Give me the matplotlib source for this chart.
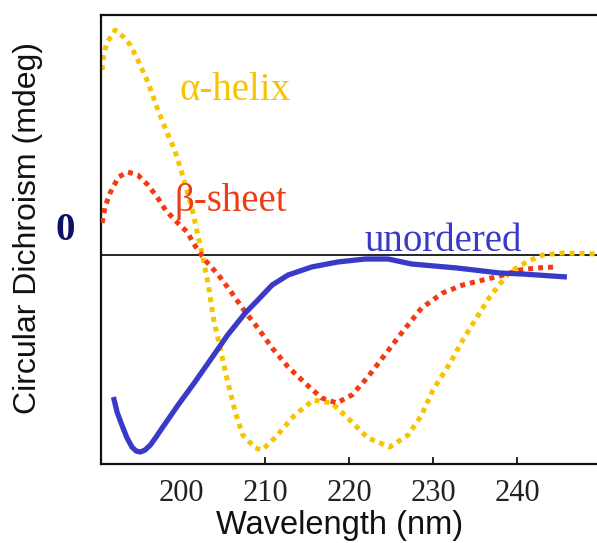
import matplotlib
matplotlib.use("Agg")
import matplotlib.pyplot as plt

# values (wavelength nm, CD in arbitrary units)
helix_wl = [190.55, 190.7, 191.1, 192.1, 193.1, 193.9, 194.8, 196.0, 197.2, 198.3, 199.2, 200.2, 201.3,
            202.0, 202.5, 203.2, 203.8, 204.6, 205.4, 206.4, 207.3, 208.8, 209.6, 211.1, 213.5, 215.7,
            217.9, 219.8, 222.2, 224.8, 227.0, 228.6, 229.95, 232.0, 233.5, 235.2, 236.7, 238.3, 239.1,
            241.1, 243.0, 245.4, 249.5]
helix_cd = [18.5, 19.8, 21.2, 22.5, 21.8, 21.0, 19.5, 17.3, 14.5, 12.2, 10.5, 7.8, 4.5,
            1.8, 0.0, -3.0, -6.3, -9.3, -12.3, -15.7, -18.0, -19.3, -19.5, -18.3, -16.0, -14.5,
            -14.8, -16.3, -18.3, -19.2, -18.0, -16.0, -13.5, -10.8, -8.5, -6.2, -4.2, -2.5, -1.7,
            -0.7, 0.0, 0.2, 0.1]

sheet_wl = [190.55, 190.9, 191.5, 192.5, 193.6, 194.8, 196.0, 197.1, 198.1, 199.2, 200.8, 201.3, 202.8,
            204.4, 206.0, 207.6, 209.1, 210.8, 212.7, 214.7, 216.7, 218.5, 220.3, 222.2, 224.2, 226.3,
            228.6, 231.1, 233.5, 235.9, 237.9, 240.3, 242.3, 244.5]
sheet_cd = [3.2, 4.8, 6.2, 7.8, 8.3, 8.0, 7.0, 5.8, 4.5, 3.5, 2.2, 1.3, -0.5,
            -2.0, -3.8, -5.7, -7.3, -9.3, -11.2, -12.8, -14.3, -14.8, -14.0, -12.2, -10.0, -7.7,
            -5.3, -3.8, -3.0, -2.5, -2.1, -1.5, -1.3, -1.2]

coil_wl = [191.9, 192.33, 192.9, 193.52, 194.1, 194.6, 195.1, 195.67, 196.3, 196.98, 197.7, 199.6, 201.6,
           203.6, 205.5, 207.6, 209.1, 210.8, 212.7, 215.5, 218.6, 221.9, 224.6, 227.4, 232.8, 237.9,
           240.6, 245.9]
coil_cd = [-14.2, -15.7, -17.0, -18.3, -19.2, -19.6, -19.7, -19.5, -19.0, -18.2, -17.3, -15.0, -12.7,
           -10.3, -8.0, -5.8, -4.5, -3.0, -2.0, -1.2, -0.7, -0.4, -0.4, -0.9, -1.3, -1.8,
           -1.9, -2.2]

ticks = [200, 210, 220, 230, 240]

gold = "#f7c400"
red = "#f03c14"
blue = "#3a3ac8"

fig = plt.figure(figsize=(5.97, 5.43), dpi=100)
ax = fig.add_axes([0.1692, 0.1455, 0.8308, 0.8269])

ax.axhline(0, color="black", lw=1.2, zorder=1)
ax.plot(helix_wl, helix_cd, color=gold, lw=3.6, linestyle=(0, (1, 1)), dash_capstyle="butt",
        solid_joinstyle="round", zorder=2)
ax.plot(sheet_wl, sheet_cd, color=red, lw=3.6, linestyle=(0, (1, 1)), dash_capstyle="butt",
        solid_joinstyle="round", zorder=3)
ax.plot(coil_wl, coil_cd, color=blue, lw=3.8, solid_capstyle="butt", solid_joinstyle="round", zorder=4)

ax.set_xlim(190.42, 249.48)
ax.set_ylim(-20.9, 24.0)
ax.spines["right"].set_visible(False)
for s in ["left", "top", "bottom"]:
    ax.spines[s].set_linewidth(1.6)
    ax.spines[s].set_color("#111111")

ax.set_yticks([])
ax.set_xticks(ticks)
ax.set_xticklabels([str(t) for t in ticks], family="Liberation Serif", fontsize=22, color="#222222")
ax.tick_params(axis="x", direction="in", length=5, width=1.2, pad=11)
ax.xaxis.get_major_ticks()[0].tick1line.set_visible(False)

fig.text(28 / 597, 0.581, "Circular Dichroism (mdeg)", rotation=90, ha="center", va="center",
         family="Liberation Sans", fontsize=23, color="#111111")
fig.text(340 / 597, 9 / 543, "Wavelength (nm)", ha="center", va="baseline",
         family="Liberation Sans", fontsize=23.5, color="#111111")
fig.text(65 / 597, 1 - 230 / 543, "0", ha="center", va="center", family="Liberation Serif",
         fontweight="bold", fontsize=28, color="#0d1266")

fig.text(180 / 597, 0.8158, "\u03b1-helix", ha="left", va="baseline", family="Liberation Serif",
         fontsize=28, color=gold)
fig.text(175 / 597, 0.6114, "\u03b2-sheet", ha="left", va="baseline", family="Liberation Serif",
         fontsize=28, color=red)
fig.text(365 / 597, 0.5378, "unordered", ha="left", va="baseline", family="Liberation Serif",
         fontsize=28, color=blue)

fig.savefig("out.png", dpi=100)
